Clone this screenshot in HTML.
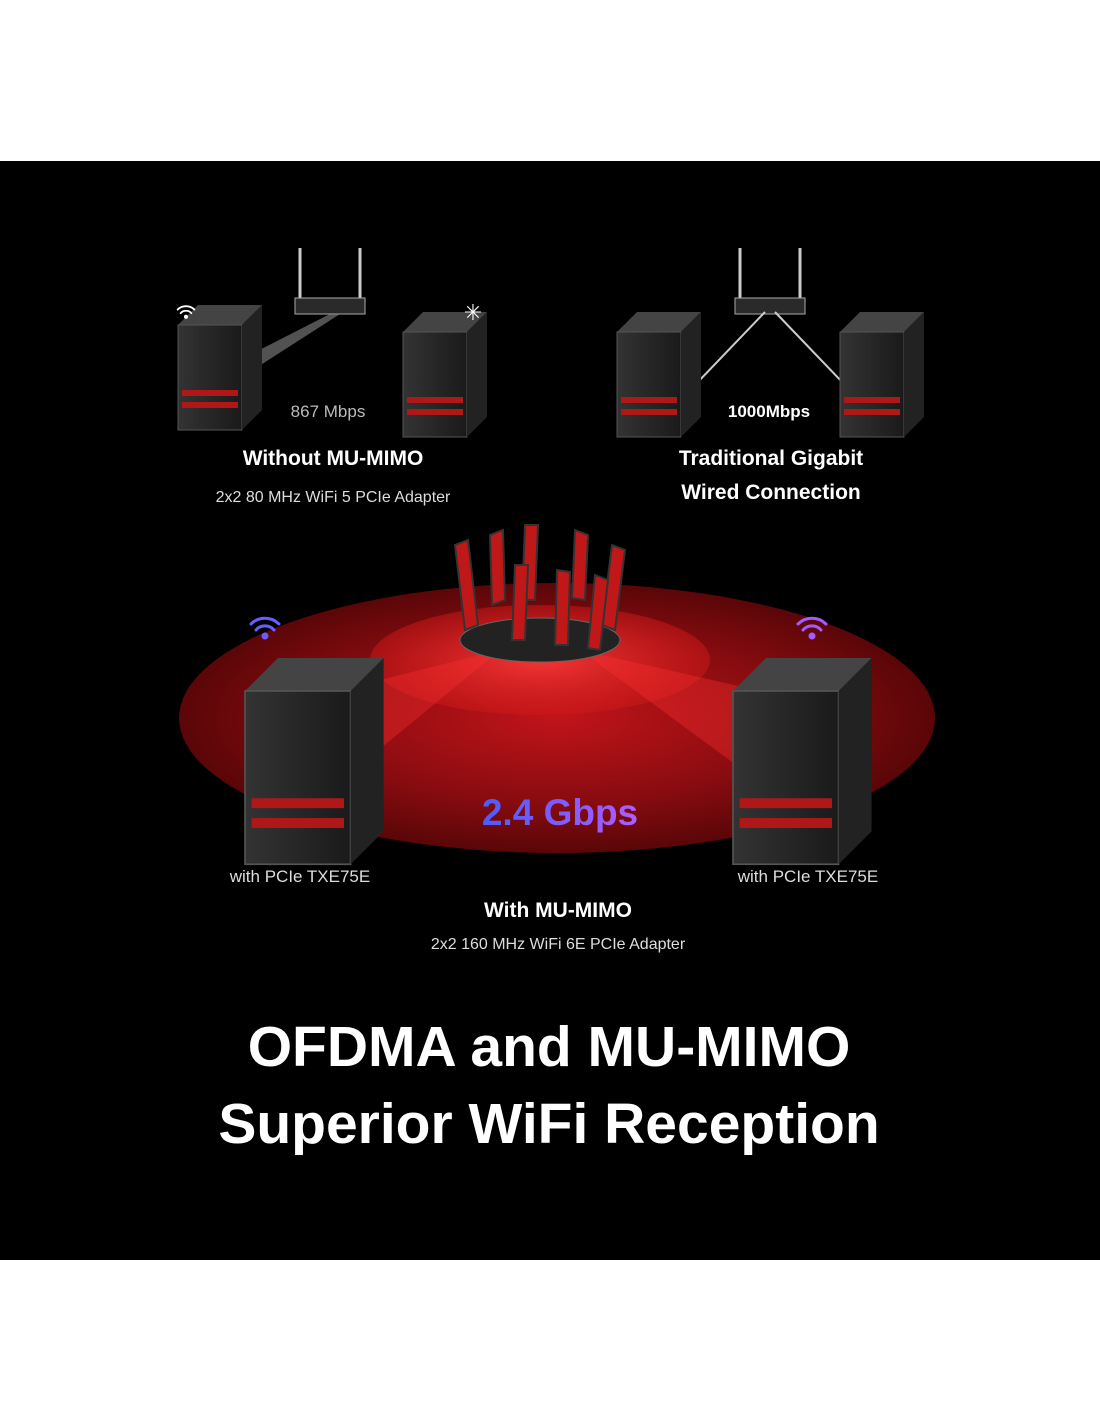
<!DOCTYPE html>
<html><head><meta charset="utf-8"><style>
body{margin:0;background:#fff;width:1100px;height:1422px;overflow:hidden;font-family:"Liberation Sans",sans-serif}
svg{display:block}
</style></head><body>
<svg width="1100" height="1422" viewBox="0 0 1100 1422" xmlns="http://www.w3.org/2000/svg">
<defs>
<radialGradient id="rg" cx="50%" cy="50%" r="50%">
<stop offset="0" stop-color="#c0141a"/><stop offset="0.6" stop-color="#8a0c10"/><stop offset="1" stop-color="#5a0608"/>
</radialGradient>
<radialGradient id="rg2" cx="50%" cy="50%" r="50%">
<stop offset="0" stop-color="#ff3a3a" stop-opacity="0.9"/><stop offset="1" stop-color="#d01818" stop-opacity="0.5"/>
</radialGradient>
<linearGradient id="tg" x1="0" x2="1"><stop offset="0" stop-color="#4a5cff"/><stop offset="1" stop-color="#b05cff"/></linearGradient>
<linearGradient id="pc" x1="0" x2="1"><stop offset="0" stop-color="#333"/><stop offset="1" stop-color="#1a1a1a"/></linearGradient>
<g id="pcs">
<polygon points="0,20 20,0 84,0 64,20" fill="#444"/>
<rect x="0" y="20" width="64" height="105" fill="url(#pc)" stroke="#555"/>
<polygon points="64,20 84,0 84,105 64,125" fill="#222"/>
<rect x="4" y="85" width="56" height="6" fill="#b01818"/>
<rect x="4" y="97" width="56" height="6" fill="#b01818"/>
</g>
<g id="wifi" fill="none" stroke-width="3" stroke-linecap="round">
<path d="M-14,-4 A20,20 0 0 1 14,-4"/><path d="M-9,2 A12,12 0 0 1 9,2"/><circle cx="0" cy="8" r="2" fill="currentColor"/>
</g>
</defs>
<rect x="0" y="161" width="1100" height="1099" fill="#000"/>
<!-- top left -->
<g stroke="#ccc" stroke-width="3" fill="none"><line x1="300" y1="248" x2="300" y2="300"/><line x1="360" y1="248" x2="360" y2="300"/></g>
<rect x="295" y="298" width="70" height="16" fill="#2a2a2a" stroke="#aaa"/>
<polygon points="330,314 340,314 245,375 230,365" fill="#888" opacity="0.6"/>
<use href="#pcs" transform="translate(178,305)"/>
<use href="#pcs" transform="translate(403,312)"/>
<g transform="translate(186,312) scale(0.6)" stroke="#fff" color="#fff"><use href="#wifi"/></g>
<text x="473" y="320" fill="#fff" font-size="22" text-anchor="middle">✳</text>
<!-- top right -->
<g stroke="#ccc" stroke-width="3" fill="none"><line x1="740" y1="248" x2="740" y2="300"/><line x1="800" y1="248" x2="800" y2="300"/></g>
<rect x="735" y="298" width="70" height="16" fill="#2a2a2a" stroke="#aaa"/>
<g stroke="#ccc" stroke-width="2" fill="none"><polyline points="765,312 695,385 660,385"/><polyline points="775,312 845,385 880,385"/></g>
<use href="#pcs" transform="translate(617,312)"/>
<use href="#pcs" transform="translate(840,312)"/>
<g font-family="Liberation Sans,sans-serif" text-anchor="middle">
<text x="328" y="417" fill="#bbb" font-size="17">867 Mbps</text>
<text x="333" y="465" fill="#fff" font-size="21" font-weight="bold">Without MU-MIMO</text>
<text x="333" y="502" fill="#ddd" font-size="16">2x2 80 MHz WiFi 5 PCIe Adapter</text>
<text x="769" y="417" fill="#fff" font-size="17" font-weight="bold">1000Mbps</text>
<text x="771" y="465" fill="#fff" font-size="21" font-weight="bold">Traditional Gigabit</text>
<text x="771" y="499" fill="#fff" font-size="21" font-weight="bold">Wired Connection</text>
</g>
<!-- big ellipse -->
<ellipse cx="557" cy="718" rx="378" ry="135" fill="url(#rg)"/>
<ellipse cx="540" cy="660" rx="170" ry="55" fill="url(#rg2)"/>
<polygon points="500,650 300,700 330,790" fill="#ff3030" opacity="0.35"/>
<polygon points="580,650 800,700 770,790" fill="#ff3030" opacity="0.35"/>
<!-- router -->
<ellipse cx="540" cy="640" rx="80" ry="22" fill="#222" stroke="#666"/>
<g fill="#c01818" stroke="#333" stroke-width="2">
<polygon points="455,545 468,540 478,625 465,630"/><polygon points="490,535 503,530 505,600 492,605"/>
<polygon points="525,525 538,525 535,600 522,600"/><polygon points="575,530 588,535 585,600 572,598"/>
<polygon points="612,545 625,550 615,630 602,625"/><polygon points="515,565 528,565 525,640 512,640"/>
<polygon points="557,570 570,572 568,645 555,645"/><polygon points="595,575 608,580 600,650 588,648"/>
</g>
<!-- PCs bottom -->
<g transform="translate(245,658) scale(1.65)"><use href="#pcs"/></g>
<g transform="translate(733,658) scale(1.65)"><use href="#pcs"/></g>
<g transform="translate(265,628)" stroke="#6a5cff" color="#6a5cff"><use href="#wifi"/></g>
<g transform="translate(812,628)" stroke="#a05cff" color="#a05cff"><use href="#wifi"/></g>
<g font-family="Liberation Sans,sans-serif" text-anchor="middle">
<text x="560" y="825" fill="url(#tg)" font-size="37" font-weight="bold">2.4 Gbps</text>
<text x="300" y="882" fill="#ddd" font-size="17">with PCIe TXE75E</text>
<text x="808" y="882" fill="#ddd" font-size="17">with PCIe TXE75E</text>
<text x="558" y="917" fill="#fff" font-size="21" font-weight="bold">With MU-MIMO</text>
<text x="558" y="949" fill="#ddd" font-size="16">2x2 160 MHz WiFi 6E PCIe Adapter</text>
<text x="549" y="1066" fill="#fff" font-size="57" font-weight="bold">OFDMA and MU-MIMO</text>
<text x="549" y="1143" fill="#fff" font-size="57" font-weight="bold">Superior WiFi Reception</text>
</g>
</svg>
</body></html>
